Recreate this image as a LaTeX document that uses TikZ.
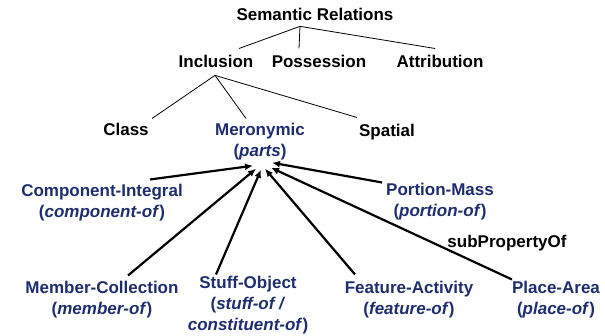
\documentclass[tikz,border=0pt]{standalone}
\usepackage{fontspec}
\setmainfont{Liberation Sans}
\usepackage{tikz}
\usetikzlibrary{calc,arrows.meta}

\definecolor{meroblue}{RGB}{31,45,110}

\tikzset{
  lbl/.style={font=\fontsize{17}{21}\selectfont\bfseries, align=center, anchor=base, inner sep=0pt},
  part/.style={lbl, text=meroblue},
  tree/.style={line width=0.8pt},
  sub/.style={->, line width=2.2pt}
}

\begin{document}
\begin{tikzpicture}[x=1pt, y=-1pt, >={Latex[length=8pt,width=7pt]}]
    \useasboundingbox (0,0) rectangle (605,336);

    % Draw top of the hierarchy
    \node[lbl] (sem) at (315,21) {Semantic Relations};
    \node[lbl] (incl) at (216,68) {Inclusion};
    \node[lbl] (poss) at (319,68) {Possession};
    \node[lbl] (attr) at (440,68) {Attribution};

    % Draw kinds of inclusion (base is the last line)
    \node[lbl] (class) at (126,136) {Class};
    \node[part] (mero) at (260,157) {Meronymic\\(\textit{parts})};
    \node[lbl] (spatial) at (387,137) {Spatial};

    % Draw kinds of meronymy
    \node[part] (comp) at (102,218) {Component-Integral\\(\textit{component-of})};
    \node[part] (portion) at (440,217) {Portion-Mass\\(\textit{portion-of})};
    \node[part] (member) at (102,315) {Member-Collection\\(\textit{member-of})};
    \node[part] (stuff) at (248,331) {Stuff-Object\\(\textit{stuff-of /}\\\textit{constituent-of})};
    \node[part] (feature) at (409,315) {Feature-Activity\\(\textit{feature-of})};
    \node[part] (place) at (556,315) {Place-Area\\(\textit{place-of})};

    % Draw label of the arrows
    \node[lbl] (subprop) at (507,248) {subPropertyOf};

    % Draw tree lines
    \draw[tree] ($(sem.south)+(-15,5)$) -- ($(incl.north)+(23,-7)$);
    \draw[tree] ($(sem.south)+(-15,5)$) -- ($(poss.north)+(-20,-7)$);
    \draw[tree] ($(sem.south)+(-15,5)$) -- ($(attr.north)+(-5,-7)$);
    \draw[tree] ($(incl.south)+(-1,7)$) -- ($(class.north)+(26,-5)$);
    \draw[tree] ($(incl.south)+(-1,7)$) -- ($(mero.north)+(-14,-5)$);
    \draw[tree] ($(incl.south)+(-1,7)$) -- ($(spatial.north)+(-30,-7)$);

    % Draw subPropertyOf arrows
    \draw[sub] ($(comp.north)+(48,-5)$) -- ($(mero.south)+(-7,5)$);
    \draw[sub] ($(member.north)+(26,-6)$) -- ($(mero.south)+(-4,8)$);
    \draw[sub] ($(stuff.north)+(-32,-2)$) -- ($(mero.south)+(1,9)$);
    \draw[sub] ($(feature.north)+(-54,-7)$) -- ($(mero.south)+(5,8)$);
    \draw[sub] ($(place.north)+(-44,-2)$) -- ($(mero.south)+(11,7)$);
    \draw[sub] ($(portion.north)+(-58,-1)$) -- ($(mero.south)+(12,2)$);
\end{tikzpicture}
\end{document}
